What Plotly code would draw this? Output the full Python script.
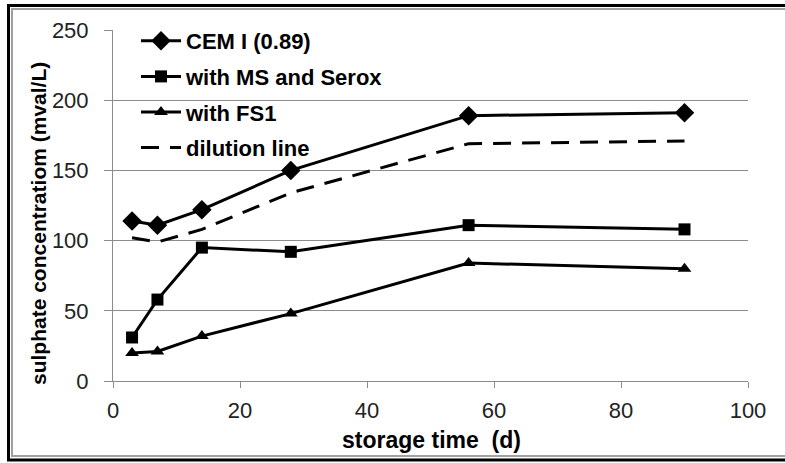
import plotly.graph_objects as go

# storage time in days
days = [3, 7, 14, 28, 56, 90]

# sulphate concentration (mval/L)
cem_i = [114, 111, 122, 150, 189, 191]
ms_serox = [31, 58, 95, 92, 111, 108]
fs1 = [20, 21, 32, 48, 84, 80]
dilution = [102, 99, 108, 134, 169, 171]

series_names = ["CEM I (0.89)", "with MS and Serox", "with FS1", "dilution line"]

x_ticks = [0, 20, 40, 60, 80, 100]
y_ticks = [0, 50, 100, 150, 200, 250]

FONT = "Liberation Sans, Arial, sans-serif"

fig = go.Figure()

line_style = dict(color="black", width=3)

fig.add_trace(go.Scatter(
    x=days, y=cem_i, name=series_names[0], mode="lines+markers",
    line=line_style, marker=dict(symbol="diamond", size=15, color="black"),
    legendgroup="a",
))
fig.add_trace(go.Scatter(
    x=days, y=ms_serox, name=series_names[1], mode="lines+markers",
    line=line_style, marker=dict(symbol="square", size=12, color="black"),
    legendgroup="b",
))
fig.add_trace(go.Scatter(
    x=days, y=fs1, name=series_names[2], mode="lines+markers",
    line=line_style, marker=dict(symbol="triangle-up", size=12, color="black"),
    legendgroup="c",
))
fig.add_trace(go.Scatter(
    x=days, y=dilution, name=series_names[3], mode="lines",
    line=dict(color="black", width=3, dash="18px,11px"),
    legendgroup="d",
))

# plot area in pixels: left 113, right 748, top 30, bottom 381
L, R, T, B = 113, 748, 30, 381
W, H = R - L, B - T


def px(xp):
    return (xp - L) / W


def py(yp):
    return (B - yp) / H


fig.update_layout(
    width=785, height=463,
    margin=dict(l=L, r=785 - R, t=T, b=463 - B),
    paper_bgcolor="white", plot_bgcolor="white",
    font=dict(family=FONT, color="black"),
    showlegend=True,
    legend=dict(
        x=px(136), y=py(20), xanchor="left", yanchor="top",
        bgcolor="rgba(0,0,0,0)", borderwidth=0,
        font=dict(family=FONT, size=22, color="black", weight="bold"),
        traceorder="grouped", tracegroupgap=4,
        itemwidth=40,
    ),
    xaxis=dict(
        range=[0, 100], tickvals=x_ticks, ticktext=[str(v) for v in x_ticks],
        showgrid=False, zeroline=False,
        showline=True, linecolor="#8c8c8c", linewidth=1,
        ticks="outside", ticklen=6, tickcolor="#8c8c8c",
        tickfont=dict(family=FONT, size=22, color="#222"),
        ticklabelstandoff=4,
    ),
    yaxis=dict(
        range=[0, 250], tickvals=y_ticks, ticktext=[str(v) for v in y_ticks],
        showgrid=True, gridcolor="#8c8c8c", gridwidth=1, zeroline=False,
        showline=True, linecolor="#8c8c8c", linewidth=1,
        ticks="outside", ticklen=8, tickcolor="#8c8c8c",
        tickfont=dict(family=FONT, size=22, color="#222"),
        ticklabelstandoff=11,
    ),
    annotations=[
        dict(text="<b>storage time  (d)</b>", xref="paper", yref="paper",
             x=px(431), y=py(440), xanchor="center", yanchor="middle",
             showarrow=False,
             font=dict(family=FONT, size=23, color="black")),
        dict(text="<b>sulphate concentratiom (mval/L)</b>", xref="paper", yref="paper",
             x=px(38), y=py(224), xanchor="center", yanchor="middle",
             textangle=-90, showarrow=False,
             font=dict(family=FONT, size=21, color="black")),
    ],
    shapes=[
        # outer frame
        dict(type="rect", xref="paper", yref="paper",
             x0=px(8.5), x1=px(800), y0=py(460), y1=py(5.5),
             line=dict(color="black", width=3), layer="above"),
        # inner frame
        dict(type="rect", xref="paper", yref="paper",
             x0=px(12), x1=px(800), y0=py(456), y1=py(9),
             line=dict(color="#a0a0a0", width=2), layer="above"),
    ],
)

fig.write_html("out.html")
